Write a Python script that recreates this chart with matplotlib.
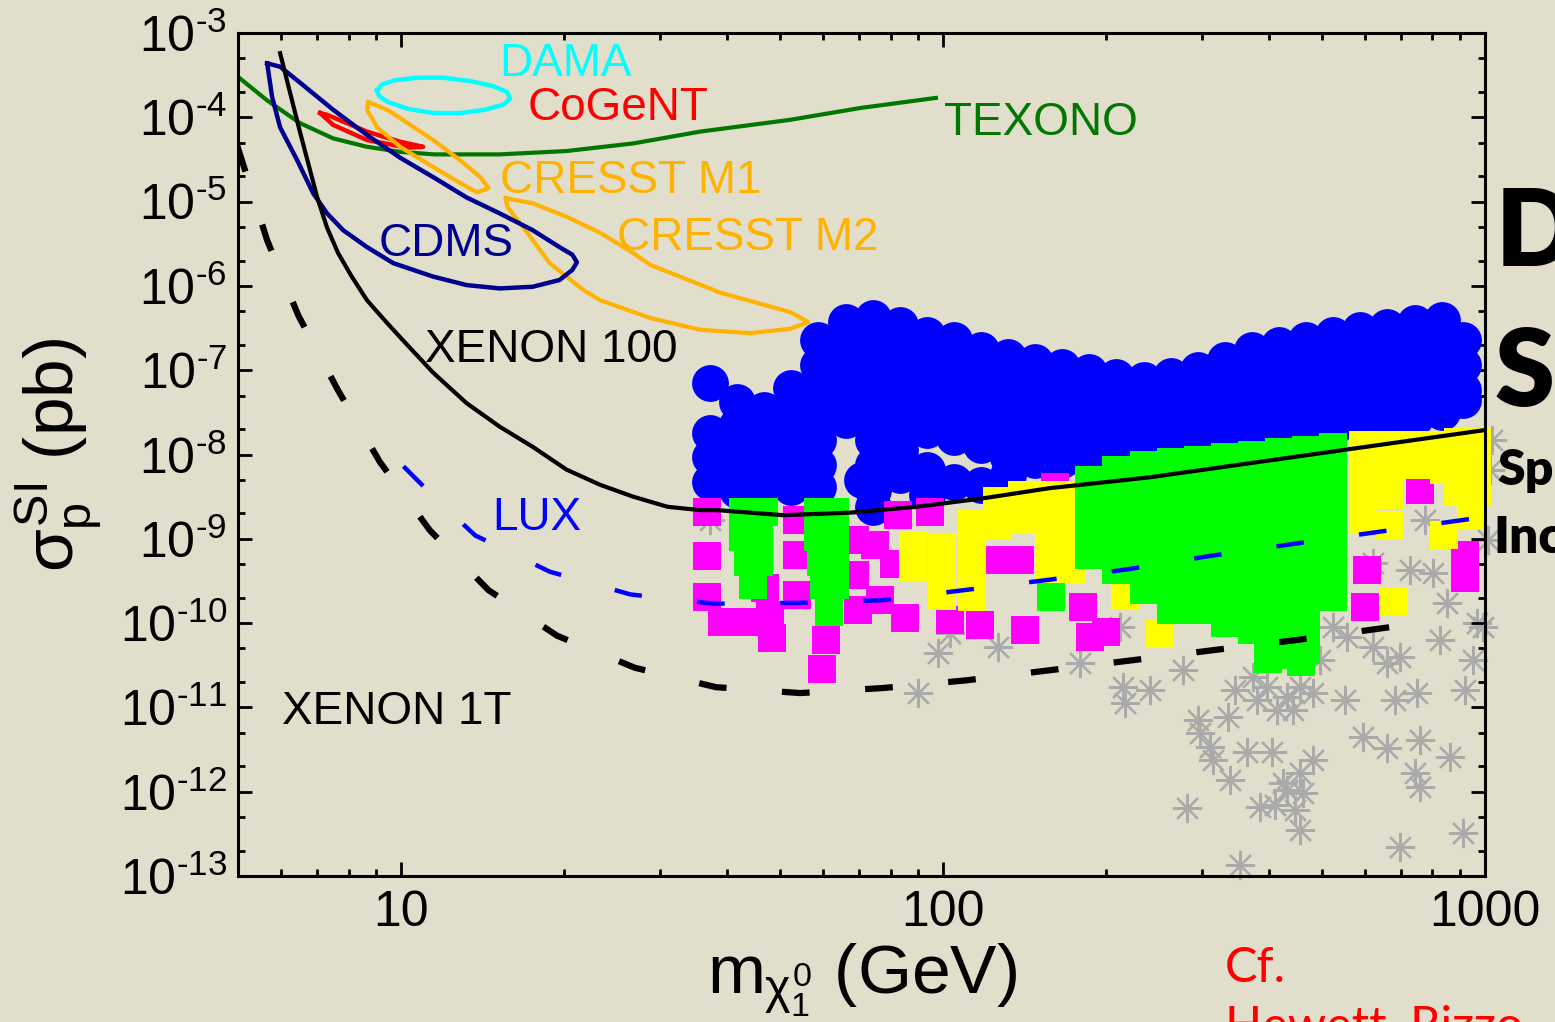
import numpy as np
import matplotlib
matplotlib.use('Agg')
import matplotlib.pyplot as plt
from matplotlib.ticker import FixedLocator, LogLocator, NullFormatter

# ---------------- data (mass in GeV, cross section as log10(sigma/pb)) ----------------
texono_m = [5.0, 5.66, 6.51, 7.49, 8.65, 9.96, 11.5, 15.2, 20.2, 26.8, 35.6, 52.2, 70.3, 97.0]
texono_logs = [-3.52, -3.80, -4.07, -4.25, -4.35, -4.41, -4.44, -4.44, -4.40, -4.31, -4.17, -4.03, -3.89, -3.77]

xenon100_m = [5.98, 6.48, 7.0, 7.30, 7.65, 8.09, 8.65, 9.27, 9.96, 11.46, 13.2, 15.2, 17.5,
              20.2, 23.3, 26.8, 31.0, 35.6, 38.3, 50.7, 67.4, 89.5, 118.5, 157, 241, 1000]
xenon100_logs = [-3.24, -4.13, -4.95, -5.31, -5.61, -5.88, -6.17, -6.39, -6.61, -7.03,
                 -7.39, -7.67, -7.91, -8.18, -8.36, -8.50, -8.62, -8.66, -8.66, -8.72, -8.69, -8.62,
                 -8.52, -8.40, -8.27, -7.71]

xenon1t_m = [4.98, 5.66, 6.46, 7.65, 9.14, 11.3, 14.5, 19.4, 27.0, 38.1, 54.5, 77.5, 110, 157, 224, 316, 450, 682]
xenon1t_logs = [-4.33, -5.46, -6.35, -7.24, -8.09, -8.90, -9.61, -10.15, -10.53, -10.76, -10.83, -10.77,
                -10.68, -10.56, -10.44, -10.32, -10.20, -10.04]

lux_m = [10.1, 11.65, 13.7, 18.8, 26.5, 37.8, 53.8, 76.8, 109, 155, 220, 313, 444, 632, 1000]
lux_logs = [-8.14, -8.54, -8.96, -9.39, -9.66, -9.77, -9.76, -9.73, -9.61, -9.49, -9.36, -9.20, -9.06, -8.92, -8.74]

cdms_m = [5.66, 5.98, 6.51, 7.49, 8.65, 9.96, 11.46, 13.2, 15.2, 17.5, 19.6, 20.7, 21.1, 20.7, 19.6,
          17.5, 15.2, 13.2, 11.46, 9.67, 8.65, 7.82, 7.30, 6.88, 6.43, 5.98, 5.78, 5.66]
cdms_logs = [-3.36, -3.40, -3.59, -3.91, -4.21, -4.48, -4.71, -4.95, -5.14, -5.34, -5.54, -5.63, -5.72,
             -5.81, -5.93, -6.01, -6.03, -5.99, -5.89, -5.73, -5.54, -5.34, -5.14, -4.90, -4.51, -4.12,
             -3.76, -3.36]

cresst1_m = [8.69, 9.42, 9.96, 11.46, 12.85, 14.0, 14.5, 13.8, 12.85, 11.46, 9.96, 9.03, 8.65, 8.69]
cresst1_logs = [-3.82, -3.91, -4.01, -4.27, -4.51, -4.71, -4.84, -4.89, -4.78, -4.59, -4.35, -4.12, -3.91, -3.82]

cresst2_m = [15.6, 17.5, 20.2, 23.3, 26.8, 28.8, 38.8, 52.2, 56.4, 52.2, 44.1, 35.6, 28.8, 23.3,
             21.7, 18.8, 17.1, 15.7, 15.6]
cresst2_logs = [-4.96, -5.02, -5.18, -5.37, -5.61, -5.75, -6.08, -6.31, -6.43, -6.51, -6.56, -6.52,
                -6.38, -6.17, -6.05, -5.73, -5.37, -5.06, -4.96]

dama_m = [9.03, 9.22, 9.75, 10.70, 11.95, 13.41, 14.78, 15.69, 15.89, 15.43, 14.29, 12.85, 11.46,
          10.30, 9.46, 9.11, 9.03]
dama_logs = [-3.68, -3.61, -3.56, -3.53, -3.53, -3.57, -3.63, -3.70, -3.78, -3.85, -3.91, -3.95,
             -3.95, -3.90, -3.82, -3.75, -3.68]

cogent_m = [7.09, 7.30, 8.65, 9.96, 10.98, 10.26, 8.65, 7.49, 7.09]
cogent_logs = [-3.95, -3.97, -4.17, -4.29, -4.35, -4.36, -4.27, -4.09, -3.95]

# scan points: (log10 mass, [log10 sigma, ...]) columns
blue_cols = [
    (1.57, [-7.15, -7.74, -8.03, -8.33]),
    (1.62, [-7.38, -7.65, -7.95, -8.24, -8.42]),
    (1.67, [-7.47, -7.77, -8.07, -8.36]),
    (1.72, [-7.21, -7.50, -7.79, -8.09, -8.39]),
    (1.77, [-6.64, -6.94, -7.24, -7.53, -7.83, -8.13, -8.39]),
    (1.82, [-6.43, -6.73, -7.02, -7.32, -7.59]),
    (1.85, [-8.30]),
    (1.87, [-6.38, -6.68, -6.97, -7.27, -7.57, -7.83, -8.13, -8.42, -8.62]),
    (1.92, [-6.46, -6.76, -7.06, -7.35, -7.65, -7.95, -8.24]),
    (1.97, [-6.58, -6.88, -7.18, -7.47, -7.71, -8.18, -8.48]),
    (2.02, [-6.64, -6.94, -7.24, -7.53, -7.79, -8.33]),
    (2.07, [-6.76, -7.06, -7.35, -7.65, -7.89, -8.36]),
    (2.12, [-6.84, -7.14, -7.44, -7.73, -8.03, -8.24]),
    (2.17, [-6.90, -7.20, -7.50, -7.79, -8.07]),
    (2.22, [-6.96, -7.26, -7.56, -7.85, -8.07]),
    (2.27, [-7.02, -7.32, -7.61, -7.91, -8.04]),
    (2.32, [-7.08, -7.38, -7.67, -7.97]),
    (2.37, [-7.12, -7.41, -7.71, -7.95]),
    (2.42, [-7.07, -7.37, -7.66, -7.91]),
    (2.47, [-7.00, -7.29, -7.59, -7.85]),
    (2.52, [-6.88, -7.18, -7.47, -7.77]),
    (2.57, [-6.76, -7.06, -7.35, -7.65, -7.79]),
    (2.62, [-6.70, -7.00, -7.29, -7.59, -7.77]),
    (2.67, [-6.64, -6.94, -7.24, -7.53, -7.73]),
    (2.72, [-6.58, -6.88, -7.18, -7.47, -7.69]),
    (2.77, [-6.52, -6.82, -7.12, -7.41, -7.65]),
    (2.82, [-6.49, -6.78, -7.08, -7.38, -7.59]),
    (2.87, [-6.44, -6.74, -7.03, -7.33, -7.57]),
    (2.92, [-6.40, -6.70, -7.00, -7.29, -7.50]),
    (2.96, [-6.64, -6.94, -7.24, -7.35]),
]

green_cols = [
    (1.63, [-8.68, -8.98]),
    (1.67, [-8.68]),
    (1.66, [-8.98, -9.28]),
    (1.64, [-9.28]),
    (1.65, [-9.55]),
    (1.77, [-8.68, -8.98]),
    (1.775, [-9.28]),
    (1.80, [-8.68, -8.98, -9.28, -9.55]),
    (1.78, [-9.55]),
    (1.79, [-9.87]),
    (2.20, [-9.69]),
    (2.27, [-8.30, -8.60, -8.90, -9.19]),
    (2.32, [-8.18, -8.48, -8.78, -9.07, -9.37]),
    (2.37, [-8.13, -8.42, -8.72, -9.01, -9.31, -9.61]),
    (2.42, [-8.09, -8.39, -8.68, -8.98, -9.28, -9.57, -9.84]),
    (2.47, [-8.07, -8.36, -8.66, -8.95, -9.25, -9.55, -9.84]),
    (2.52, [-8.03, -8.33, -8.62, -8.92, -9.22, -9.51, -9.81, -10.00]),
    (2.57, [-8.01, -8.30, -8.60, -8.90, -9.19, -9.49, -9.79, -10.08]),
    (2.60, [-10.25, -10.43]),
    (2.62, [-7.97, -8.27, -8.56, -8.86, -9.16, -9.45, -9.75, -10.05, -10.38]),
    (2.66, [-10.30, -10.46]),
    (2.67, [-7.95, -8.24, -8.54, -8.84, -9.13, -9.43, -9.73, -10.02, -10.32]),
    (2.72, [-7.91, -8.21, -8.50, -8.80, -9.10, -9.39, -9.69]),
]

yellow_logm = [1.945, 1.945, 1.998, 1.998, 1.998, 2.054, 2.054, 2.054, 2.054, 2.10, 2.10, 2.146, 2.146,
               2.196, 2.196, 2.196, 2.196, 2.238, 2.238, 2.238, 2.238, 2.336, 2.40,
               2.775, 2.775, 2.775, 2.775, 2.825, 2.825, 2.825, 2.825, 2.875, 2.875,
               2.924, 2.924, 2.924, 2.95, 2.95, 2.95, 2.985, 2.985, 2.985, 2.975, 2.832]
yellow_logs = [-9.07, -9.34, -9.10, -9.39, -9.68, -8.82, -9.13, -9.43, -9.69, -8.55, -8.85, -8.48, -8.78,
               -8.48, -8.78, -9.07, -9.37, -8.48, -8.78, -9.07, -9.37, -9.67, -10.13,
               -7.89, -8.18, -8.48, -8.78, -7.89, -8.18, -8.48, -8.84, -7.89, -8.13,
               -7.89, -8.18, -8.95, -7.85, -8.15, -8.45, -7.85, -8.15, -8.45, -8.72, -9.74]

magenta_logm = [1.565, 1.565, 1.565, 1.592, 1.635, 1.672, 1.681, 1.685, 1.731, 1.731, 1.731,
                1.784, 1.777, 1.838, 1.838, 1.843, 1.875, 1.91, 1.884, 1.930, 1.917, 1.976,
                2.013, 2.068, 2.105, 2.142, 2.151, 2.207, 2.258, 2.271, 2.30,
                2.779, 2.782, 2.880, 2.963, 2.963]
magenta_logs = [-8.68, -9.20, -9.69, -9.99, -9.99, -9.58, -9.90, -10.18, -8.78, -9.19, -9.67,
                -10.20, -10.55, -9.01, -9.43, -9.84, -9.07, -9.30, -9.73, -9.94, -8.72, -8.68,
                -9.96, -10.02, -9.25, -9.25, -10.08, -8.39, -9.81, -10.16, -10.10,
                -9.81, -9.37, -8.42, -9.46, -9.19]

gray_logm = [1.570, 2.013, 1.991, 1.954, 2.101, 2.253, 2.327, 2.332, 2.336, 2.443, 2.470, 2.474,
             2.493, 2.498, 2.450, 2.526, 2.561, 2.607, 2.585, 2.649, 2.548, 2.627, 2.659, 2.664,
             2.635, 2.683, 2.683, 2.635, 2.579, 2.598, 2.659, 2.572, 2.616, 2.646, 2.720, 2.745,
             2.793, 2.819, 2.843, 2.875, 2.775, 2.819, 2.880, 2.935, 2.871, 2.880, 2.843, 2.959,
             2.985, 2.978, 2.930, 2.996, 2.904, 2.862, 2.793, 3.013, 3.009, 3.005, 2.889,
             2.382, 2.539, 2.696, 2.742, 2.834, 2.917, 2.963, 2.613, 2.659, 2.530]
gray_logs = [-8.78, -10.12, -10.35, -10.83, -10.28, -10.47, -10.05, -10.76, -10.95, -10.56, -11.15,
             -11.30, -11.47, -11.62, -12.19, -11.11, -11.53, -11.53, -12.18, -12.22, -12.87, -11.90,
             -11.78, -12.02, -11.98, -11.62, -10.83, -10.88, -10.91, -10.76, -10.76, -10.64, -11.03,
             -11.03, -10.05, -10.17, -10.28, -10.47, -10.40, -10.83, -11.35, -11.48, -11.39, -11.59,
             -11.78, -11.94, -12.66, -12.49, -10.00, -10.44, -9.76, -10.05, -9.41, -9.37, -9.29,
             -7.83, -8.18, -9.01, -8.78,
             -10.79, -10.79, -10.44, -10.91, -10.91, -10.20, -10.79, -12.16, -12.45, -11.86]

labels = ["DAMA", "CoGeNT", "TEXONO", "CRESST M1", "CRESST M2", "CDMS", "XENON 100", "LUX", "XENON 1T"]
label_m = [15.2, 17.1, 100.4, 15.2, 25.0, 9.07, 11.08, 14.7, 6.03]
label_logs = [-3.51, -4.03, -4.21, -4.90, -5.57, -5.65, -6.90, -8.90, -11.20]
label_colors = ["#00ffff", "#ff0000", "#007800", "#ffb300", "#ffb300", "#000090", "#000000", "#0000ff", "#000000"]

xtick_vals = [10, 100, 1000]
xtick_labels = ["10", "100", "1000"]
ytick_exps = list(range(-13, -2))

# ---------------- style ----------------
BG = '#e1decb'
plt.rcParams['font.family'] = ['Liberation Sans', 'DejaVu Sans']
plt.rcParams['mathtext.fontset'] = 'custom'
plt.rcParams['mathtext.rm'] = 'Liberation Sans'
plt.rcParams['mathtext.it'] = 'Liberation Sans'
plt.rcParams['mathtext.bf'] = 'Liberation Sans:bold'
plt.rcParams['mathtext.sf'] = 'Liberation Sans'
plt.rcParams['lines.scale_dashes'] = False


def cols_to_xy(cols):
    xs, ys = [], []
    for lm, lss in cols:
        for ls in lss:
            xs.append(10 ** lm)
            ys.append(10 ** ls)
    return xs, ys


def pw(a):
    return 10 ** np.asarray(a, dtype=float)


fig = plt.figure(figsize=(15.55, 10.22), dpi=100, facecolor=BG)
ax = fig.add_axes([238 / 1555, 1 - 876 / 1022, (1485 - 238) / 1555, (876 - 33) / 1022])
ax.set_facecolor(BG)
ax.set_xscale('log')
ax.set_yscale('log')
ax.set_xlim(5, 1000)
ax.set_ylim(1e-13, 1e-3)

# scan points
ax.plot(pw(gray_logm), pw(gray_logs), linestyle='none', marker=(8, 2, 0), ms=21, mew=1.6,
        color='#aaaaaa', zorder=1, clip_on=False)
bx, by = cols_to_xy(blue_cols)
ax.plot(bx, by, linestyle='none', marker='o', ms=26.5, mew=0, color='#0000ff', zorder=2, clip_on=False)
ax.plot(pw(magenta_logm), pw(magenta_logs), linestyle='none', marker='s', ms=20, mew=0,
        color='#ff00ff', zorder=3, clip_on=False)
ax.plot(pw(yellow_logm), pw(yellow_logs), linestyle='none', marker='s', ms=20, mew=0,
        color='#ffff00', zorder=4, clip_on=False)
gx, gy = cols_to_xy(green_cols)
ax.plot(gx, gy, linestyle='none', marker='s', ms=20, mew=0, color='#00ff00', zorder=5, clip_on=False)

# limit curves and regions
ax.plot(texono_m, pw(texono_logs), color='#007800', lw=3, zorder=6)
ax.plot(dama_m, pw(dama_logs), color='#00ffff', lw=3.2, zorder=6, solid_joinstyle='round')
ax.plot(cogent_m, pw(cogent_logs), color='#ff0000', lw=3.2, zorder=6, solid_joinstyle='round')
ax.plot(cresst1_m, pw(cresst1_logs), color='#ffb300', lw=3, zorder=6, solid_joinstyle='round')
ax.plot(cresst2_m, pw(cresst2_logs), color='#ffb300', lw=3, zorder=6, solid_joinstyle='round')
ax.plot(cdms_m, pw(cdms_logs), color='#000090', lw=3.2, zorder=7, solid_joinstyle='round')
ax.plot(xenon100_m, pw(xenon100_logs), color='black', lw=3, zorder=8, solid_joinstyle='round')
l1, = ax.plot(lux_m, pw(lux_logs), color='#0000ff', lw=3.2, zorder=8)
l1.set_dashes((20, 40))
l2, = ax.plot(xenon1t_m, pw(xenon1t_logs), color='black', lw=4.5, zorder=8)
l2.set_dashes((20, 40))

for s, m, ls, c in zip(labels, label_m, label_logs, label_colors):
    ax.text(m, 10 ** ls, s, color=c, fontsize=33, ha='left', va='baseline', zorder=9)

# axes / ticks
for sp in ax.spines.values():
    sp.set_linewidth(2.2)
    sp.set_zorder(10)
ax.xaxis.set_major_locator(FixedLocator(xtick_vals))
ax.set_xticklabels(xtick_labels)
ax.xaxis.set_minor_locator(LogLocator(base=10, subs=np.arange(2, 10), numticks=50))
ax.xaxis.set_minor_formatter(NullFormatter())
ax.yaxis.set_major_locator(FixedLocator([10.0 ** e for e in ytick_exps]))
ax.set_yticklabels([r'$10^{\text{-}%d}$' % (-e) for e in ytick_exps])
ax.yaxis.set_minor_locator(LogLocator(base=10, subs=[2, 5], numticks=50))
ax.yaxis.set_minor_formatter(NullFormatter())
ax.tick_params(which='both', direction='in', top=True, right=True, width=2, colors='black')
ax.tick_params(which='major', length=10)
ax.tick_params(which='minor', length=5)
ax.tick_params(axis='x', which='major', labelsize=36, pad=10)
ax.tick_params(axis='y', which='major', labelsize=36, pad=8)

ax.set_xlabel(r'$m_{\chi_1^0}$ (GeV)', fontsize=50)
ax.xaxis.set_label_coords(0.5, -0.078)
ax.set_ylabel(r'$\sigma_p^{SI}$ (pb)', fontsize=50)
ax.yaxis.set_label_coords(-0.107, 0.5)

# slide text around the chart
fig.text(1496 / 1555, 1 - 266 / 1022, 'D', fontsize=76, fontweight='heavy', family='Lato', color='black')
fig.text(1495 / 1555, 1 - 406 / 1022, 'S', fontsize=78, fontweight='heavy', family='Lato', color='black')
fig.text(1497 / 1555, 1 - 485 / 1022, 'Sp', fontsize=36, fontweight='heavy', family='Lato', color='black')
fig.text(1493 / 1555, 1 - 553 / 1022, 'Inc', fontsize=37, fontweight='heavy', family='Lato', color='black')
fig.text(1225 / 1555, 1 - 982 / 1022, 'Cf.', fontsize=35, family='Lato', color='#ff0000')
fig.text(1225 / 1555, 1 - 1040 / 1022, 'Hewett, Rizzo', fontsize=35, family='Lato', color='#ff0000')

fig.savefig('out.png', dpi=100, facecolor=BG)
